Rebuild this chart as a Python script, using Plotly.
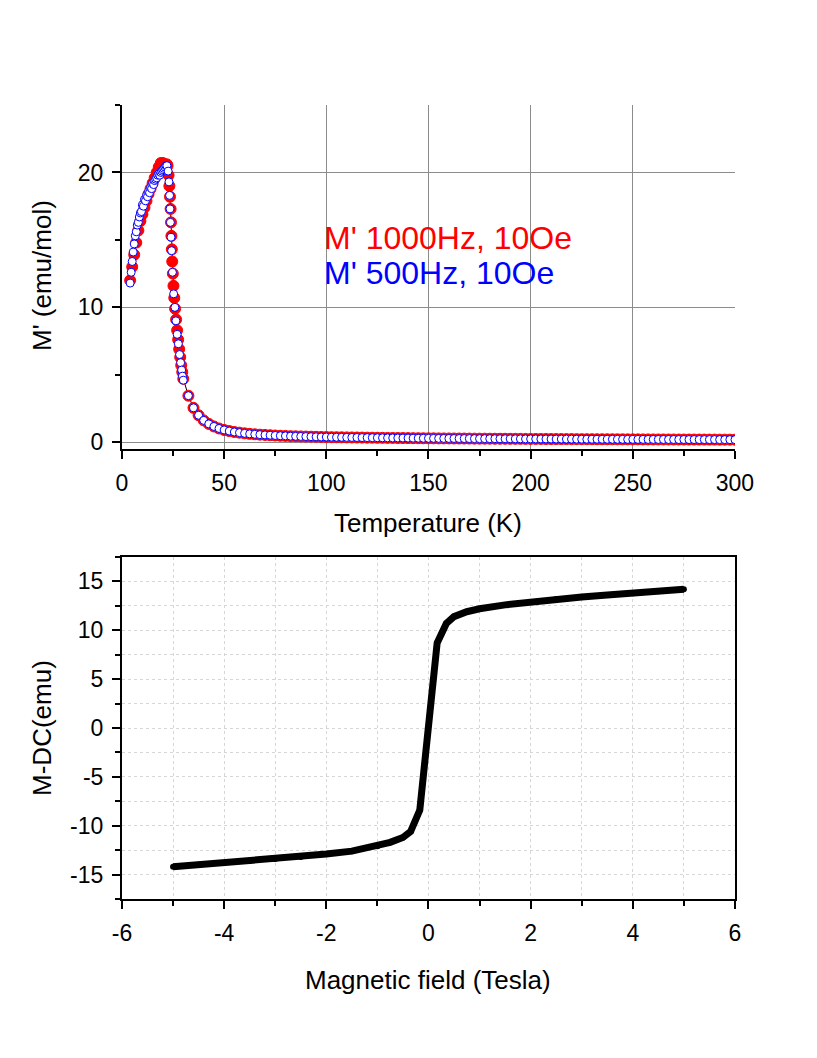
import plotly.graph_objects as go

# --- AC susceptibility, 1000 Hz (red) ---
t_red = [4.0, 5.0, 6.0, 7.0, 8.0, 9.0, 10.0, 11.0, 12.0, 13.0, 14.0, 15.0, 16.0, 17.0,
         18.0, 19.0, 20.0, 21.0, 22.0, 22.3, 22.8, 23.2, 23.5, 23.8, 24.0, 24.2, 24.4,
         24.6, 24.9, 25.2, 25.6, 26.0, 26.5, 27.0, 27.5, 28.0, 28.5, 29.0, 29.5, 30.0]
m_red = [12.0, 13.0, 13.9, 14.8, 15.7, 16.4, 16.9, 17.4, 17.9, 18.4, 18.8, 19.2, 19.6, 20.0,
         20.4, 20.7, 20.7, 20.6, 20.6, 20.5, 19.8, 19.0, 18.2, 17.3, 16.3, 15.3, 14.3,
         13.4, 12.5, 11.6, 10.7, 9.9, 9.1, 8.3, 7.6, 6.9, 6.3, 5.7, 5.2, 4.7]

# --- AC susceptibility, 500 Hz (blue) ---
t_blue = [4.0, 4.5, 5.0, 5.5, 6.0, 6.5, 7.0, 7.5, 8.0, 8.5, 9.0, 9.5, 10.0, 10.5, 11.0,
          11.5, 12.0, 12.5, 13.0, 13.5, 14.0, 14.5, 15.0, 15.5, 16.0, 16.5, 17.0, 17.5,
          18.0, 18.5, 19.0, 19.5, 20.0, 20.5, 21.0, 21.5, 22.0, 22.6, 23.0, 23.3, 23.5,
          23.7, 24.0, 24.3, 24.7, 25.3, 25.9, 26.4, 27.0, 27.6, 28.2, 28.7, 29.2, 29.6, 30.0]
m_blue = [11.8, 12.6, 13.4, 14.1, 14.7, 15.3, 15.6, 16.1, 16.3, 16.7, 17.0, 17.1, 17.6, 17.5,
          18.0, 17.9, 18.3, 18.2, 18.6, 18.5, 18.9, 18.8, 19.2, 19.1, 19.4, 19.5, 19.6, 19.8,
          19.9, 19.8, 20.0, 20.1, 20.2, 20.3, 20.4, 20.5, 20.5, 20.1, 19.3, 18.3, 17.3,
          16.3, 15.2, 14.2, 12.6, 11.0, 10.0, 9.0, 8.0, 7.3, 6.5, 5.9, 5.35, 4.9, 4.6]

# --- common high-temperature tail (both frequencies) ---
t_tail = [32.5, 35, 37.5, 40, 42.5, 45, 47.5, 50, 52.5, 55, 57.5, 60, 62.5, 65, 67.5, 70,
          72.5, 75, 77.5, 80, 82.5, 85, 87.5, 90, 92.5, 95, 97.5, 100,
          102.5, 105, 107.5, 110, 112.5, 115, 117.5, 120, 122.5, 125,
          127.5, 130, 132.5, 135, 137.5, 140, 142.5, 145, 147.5, 150,
          152.5, 155, 157.5, 160, 162.5, 165, 167.5, 170, 172.5, 175,
          177.5, 180, 182.5, 185, 187.5, 190, 192.5, 195, 197.5, 200,
          202.5, 205, 207.5, 210, 212.5, 215, 217.5, 220, 222.5, 225,
          227.5, 230, 232.5, 235, 237.5, 240, 242.5, 245, 247.5, 250,
          252.5, 255, 257.5, 260, 262.5, 265, 267.5, 270, 272.5, 275,
          277.5, 280, 282.5, 285, 287.5, 290, 292.5, 295, 297.5, 300]
m_tail = [3.45, 2.55, 2.00, 1.62, 1.36, 1.17, 1.02, 0.91, 0.83, 0.76, 0.71, 0.66, 0.62, 0.59,
          0.56, 0.54, 0.52, 0.50, 0.48, 0.47, 0.45, 0.44, 0.43, 0.42, 0.41, 0.40, 0.39, 0.385,
          0.375, 0.37, 0.365, 0.36, 0.355, 0.35, 0.345, 0.34, 0.335, 0.33,
          0.326, 0.322, 0.318, 0.314, 0.31, 0.306, 0.302, 0.298, 0.294, 0.29,
          0.287, 0.285, 0.282, 0.28, 0.277, 0.275, 0.272, 0.27, 0.267, 0.265,
          0.263, 0.261, 0.259, 0.257, 0.255, 0.253, 0.251, 0.249, 0.247, 0.245,
          0.243, 0.241, 0.24, 0.238, 0.236, 0.235, 0.233, 0.231, 0.23, 0.228,
          0.226, 0.225, 0.223, 0.222, 0.22, 0.219, 0.217, 0.216, 0.214, 0.213,
          0.212, 0.21, 0.209, 0.208, 0.206, 0.205, 0.204, 0.203, 0.201, 0.2,
          0.199, 0.198, 0.197, 0.196, 0.195, 0.194, 0.193, 0.192, 0.191, 0.19]

# --- DC magnetisation loop ---
field = [-5, -4.5, -4, -3.5, -3, -2.5, -2, -1.5, -1, -0.75, -0.5, -0.35, -0.17,
         0.17, 0.35, 0.5, 0.75, 1, 1.5, 2, 2.5, 3, 3.5, 4, 4.5, 5]
m_dc = [-14.2, -14.0, -13.8, -13.6, -13.4, -13.2, -12.9, -12.6, -12.1, -11.7, -11.2, -10.6, -8.4,
        8.7, 10.7, 11.4, 11.9, 12.2, 12.6, 12.9, 13.2, 13.4, 13.6, 13.8, 14.0, 14.2]

# tick labels with plain hyphens, as in the original
field_ticks = [-6, -4, -2, 0, 2, 4, 6]
mdc_ticks = [-15, -10, -5, 0, 5, 10, 15]

FONT = "Liberation Sans, Arial, sans-serif"
TITLE_FONT = dict(family=FONT, size=26, color="black")

fig = go.Figure()

fig.add_trace(go.Scatter(
    x=t_red + t_tail, y=m_red + m_tail, mode="lines+markers",
    line=dict(color="black", width=1),
    marker=dict(symbol="circle", size=11, color="#ff0000", line=dict(color="#ff0000", width=1)),
    xaxis="x", yaxis="y", showlegend=False))
fig.add_trace(go.Scatter(
    x=t_blue + t_tail, y=m_blue + m_tail, mode="markers",
    marker=dict(symbol="circle", size=8, color="white", line=dict(color="#0000ff", width=1)),
    xaxis="x", yaxis="y", showlegend=False))

fig.add_trace(go.Scatter(
    x=field, y=m_dc, mode="lines+markers",
    line=dict(color="black", width=7), marker=dict(color="black", size=6),
    xaxis="x2", yaxis="y2", showlegend=False))

ax = dict(showline=True, linecolor="black", linewidth=2, ticks="outside", ticklen=8,
          tickwidth=2, tickcolor="black", zeroline=False, automargin=False,
          ticklabelstandoff=4,
          tickfont=dict(family=FONT, size=23, color="black"))
minor_tk = dict(ticks="outside", ticklen=5, tickwidth=2, tickcolor="black")
minor_dash = dict(minor_tk, showgrid=True, gridcolor="#d6d6d6", griddash="3px,3px", gridwidth=1)

fig.update_layout(
    width=817, height=1058,
    margin=dict(l=0, r=0, t=0, b=0),
    paper_bgcolor="white", plot_bgcolor="white",
    font=dict(family=FONT, color="black"),
    xaxis=dict(ax, domain=[0.1395, 0.8898], range=[0, 300], dtick=50, tick0=0,
               showgrid=True, gridcolor="#8c8c8c", gridwidth=1, anchor="y",
               minor=dict(minor_tk, dtick=25)),
    yaxis=dict(ax, domain=[0.5832, 0.9083], range=[-0.5, 25], dtick=10, tick0=0,
               showgrid=True, gridcolor="#8c8c8c", gridwidth=1, anchor="x",
               minor=dict(minor_tk, dtick=5)),
    xaxis2=dict(ax, domain=[0.1395, 0.8898], range=[-6, 6], mirror=True,
                tickvals=field_ticks, ticktext=[str(v) for v in field_ticks],
                showgrid=False, anchor="y2",
                minor=dict(minor_dash, dtick=1)),
    yaxis2=dict(ax, domain=[0.1578, 0.4811], range=[-17.5, 17.5], mirror=True,
                tickvals=mdc_ticks, ticktext=[str(v) for v in mdc_ticks],
                showgrid=False, anchor="x2",
                minor=dict(minor_dash, dtick=2.5)),
    annotations=[
        # axis titles
        dict(text="Temperature (K)", x=0.5141, y=0.5132, xref="paper", yref="paper",
             xanchor="center", yanchor="middle", showarrow=False, font=TITLE_FONT),
        dict(text="M' (emu/mol)", x=0.0416, y=0.7476, xref="paper", yref="paper",
             xanchor="center", yanchor="middle", textangle=-90, showarrow=False,
             font=TITLE_FONT),
        dict(text="Magnetic field (Tesla)", x=0.5141, y=0.0813, xref="paper", yref="paper",
             xanchor="center", yanchor="middle", showarrow=False, font=TITLE_FONT),
        dict(text="M-DC(emu)", x=0.0416, y=0.3195, xref="paper", yref="paper",
             xanchor="center", yanchor="middle", textangle=-90, showarrow=False,
             font=TITLE_FONT),
        # legend text
        dict(text="M' 1000Hz, 10Oe", x=0.3843, y=0.7826, xref="paper", yref="paper",
             xanchor="left", yanchor="middle", showarrow=False,
             font=dict(family=FONT, size=32, color="#ff0000")),
        dict(text="M' 500Hz, 10Oe", x=0.3843, y=0.7495, xref="paper", yref="paper",
             xanchor="left", yanchor="middle", showarrow=False,
             font=dict(family=FONT, size=32, color="#0000ff")),
    ],
)

fig.write_html("out.html")
